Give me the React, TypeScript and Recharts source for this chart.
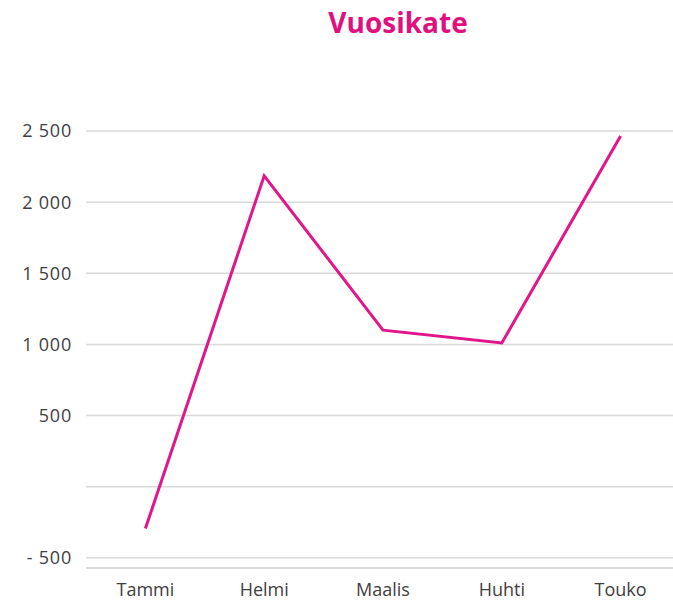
import { LineChart, Line, XAxis, YAxis, CartesianGrid } from "recharts";

const months = ["Tammi", "Helmi", "Maalis", "Huhti", "Touko"];
const vuosikate = [-295, 2185, 1100, 1010, 2465];
const yTicks = [-500, 0, 500, 1000, 1500, 2000, 2500];

const chartData = months.map((m, i) => ({ name: m, value: vuosikate[i] }));

const formatTick = (v: number) => {
  if (v === 0) return "";
  if (v < 0) return "- " + formatTick(-v);
  const s = String(v);
  return s.length > 3 ? s.slice(0, -3) + " " + s.slice(-3) : s;
};

const TEXT = "#404040";
const PINK = "#E0168A";

const App = () => {
  return (
    <div
      style={{
        position: "absolute",
        left: 0,
        top: 0,
        width: 673,
        height: 603,
        overflow: "hidden",
        background: "#fff",
        fontFamily: "'Open Sans', sans-serif",
      }}
    >
      <div
        style={{
          position: "absolute",
          left: 0,
          width: 796,
          top: 5,
          textAlign: "center",
          fontSize: 28,
          lineHeight: "34px",
          fontWeight: 700,
          color: "#E0117F",
        }}
      >
        Vuosikate
      </div>
      <LineChart
        width={680}
        height={603}
        data={chartData}
        margin={{ top: 131, right: 0, bottom: 0, left: 0 }}
      >
        <CartesianGrid horizontal vertical={false} stroke="#d9d9d9" strokeWidth={1.5} />
        <XAxis
          dataKey="name"
          scale="band"
          height={35}
          axisLine={{ stroke: "#d9d9d9", strokeWidth: 1.5 }}
          tickLine={false}
          tickMargin={9}
          tick={{ fontSize: 18, fill: TEXT }}
        />
        <YAxis
          type="number"
          domain={[-572, 2500]}
          ticks={yTicks}
          tickFormatter={formatTick}
          width={86}
          axisLine={false}
          tickLine={false}
          tickSize={0}
          tickMargin={14}
          tick={{ fontSize: 18, fill: TEXT, letterSpacing: 0.8 }}
        />
        <Line
          type="linear"
          dataKey="value"
          stroke={PINK}
          strokeWidth={3}
          dot={false}
          activeDot={false}
          isAnimationActive={false}
        />
      </LineChart>
    </div>
  );
};

export default App;
